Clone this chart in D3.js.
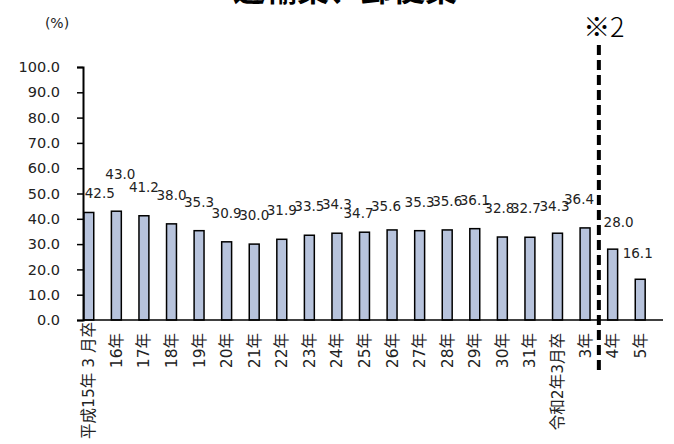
<!DOCTYPE html>
<html>
<head>
<meta charset="utf-8">
<script src="https://cdn.jsdelivr.net/npm/d3@7"></script>
<style>
  html, body { margin: 0; padding: 0; background: #fff; }
  svg { display: block; }
</style>
</head>
<body>
<div id="chart"></div>
<script>
// ---- Data ----
const title = "運輸業、郵便業";
const categories = ["平成15年 3 月卒", "16年", "17年", "18年", "19年", "20年", "21年", "22年", "23年", "24年",
  "25年", "26年", "27年", "28年", "29年", "30年", "31年", "令和2年3月卒", "3年", "4年", "5年"];
const values = [42.5, 43.0, 41.2, 38.0, 35.3, 30.9, 30.0, 31.9, 33.5, 34.3,
  34.7, 35.6, 35.3, 35.6, 36.1, 32.8, 32.7, 34.3, 36.4, 28.0, 16.1];
const yTicks = [0, 10, 20, 30, 40, 50, 60, 70, 80, 90, 100];
const unitLabel = "(%)";
const noteLabel = "※2";
const dividerBetween = ["3年", "4年"];

// label nudges (layout only)
const labelDx = [11, 4, 0, 0, 0, 0, 0, 0, 0, 0, -6, -6, 0, 0, 0, -3, -4, -3, -6, 6, -2.5];
const labelDy = [10, -8, 0, 0, 0, 0, 0, 0, 0, 0, 10, 5, 0, 0, 0, 0, 0, 2, 0, 2, 3];

// ---- Layout ----
const W = 674, H = 444;
const svg = d3.select("#chart").append("svg").attr("width", W).attr("height", H);
const font = "'DejaVu Sans', 'Noto Sans CJK JP', sans-serif";

const x = d3.scaleBand().domain(categories).range([75, 654]).paddingInner(0.64).paddingOuter(0.32);
const y = d3.scaleLinear().domain([0, 100]).range([320, 67]);
const axisX = 83;

// title (cut off at top)
svg.append("text").attr("x", 345).attr("y", 1).attr("text-anchor", "middle")
  .attr("font-family", "'Noto Sans CJK JP', sans-serif").attr("font-weight", "bold")
  .attr("font-size", 32).attr("fill", "#000").text(title);

// unit
svg.append("text").attr("x", 57).attr("y", 28).attr("text-anchor", "middle")
  .attr("font-family", font).attr("font-size", 14).attr("fill", "#222").text(unitLabel);

// bars
svg.append("g").selectAll("rect").data(values).join("rect")
  .attr("x", (d, i) => x(categories[i]))
  .attr("y", d => y(d))
  .attr("width", x.bandwidth())
  .attr("height", d => y(0) - y(d))
  .attr("fill", "#b7c3dc").attr("stroke", "#000").attr("stroke-width", 1.5);

// y axis
const yAxis = d3.axisLeft(y).tickValues(yTicks).tickFormat(d3.format(".1f")).tickSizeOuter(0).tickSize(6).tickPadding(17);
const gy = svg.append("g").attr("transform", `translate(${axisX},0)`).call(yAxis);
gy.select(".domain").attr("stroke", "#000").attr("stroke-width", 2);
gy.selectAll(".tick line").attr("stroke", "#000").attr("stroke-width", 1.5);
gy.selectAll(".tick text").attr("font-family", font).attr("font-size", 14.5).attr("fill", "#222");

// x axis line
svg.append("line").attr("x1", axisX).attr("x2", 663).attr("y1", y(0)).attr("y2", y(0))
  .attr("stroke", "#000").attr("stroke-width", 1.5);

// x labels (rotated)
svg.append("g").selectAll("text").data(categories).join("text")
  .attr("transform", (d, i) => `translate(${x(d) + x.bandwidth() / 2 + 5.5},${i === 0 ? 322 : 333}) rotate(-90)`)
  .attr("text-anchor", "end")
  .attr("font-family", font).attr("font-size", 15.5).attr("fill", "#222")
  .text(d => d);

// data labels
svg.append("g").selectAll("text").data(values).join("text")
  .attr("x", (d, i) => x(categories[i]) + x.bandwidth() / 2 + labelDx[i])
  .attr("y", (d, i) => y(d) - 24 + labelDy[i])
  .attr("text-anchor", "middle")
  .attr("font-family", font).attr("font-size", 13.5).attr("fill", "#222")
  .text(d => d3.format(".1f")(d));

// divider dashed line
const dx = (x(dividerBetween[0]) + x.bandwidth() + x(dividerBetween[1])) / 2;
svg.append("line").attr("x1", dx).attr("x2", dx).attr("y1", 45).attr("y2", 375)
  .attr("stroke", "#000").attr("stroke-width", 4).attr("stroke-dasharray", "10,5");

svg.append("text").attr("x", dx + 5).attr("y", 37).attr("text-anchor", "middle")
  .attr("font-family", "'Noto Sans CJK JP', sans-serif").attr("font-weight", 300)
  .attr("font-size", 27).attr("fill", "#000").text(noteLabel);
</script>
</body>
</html>
